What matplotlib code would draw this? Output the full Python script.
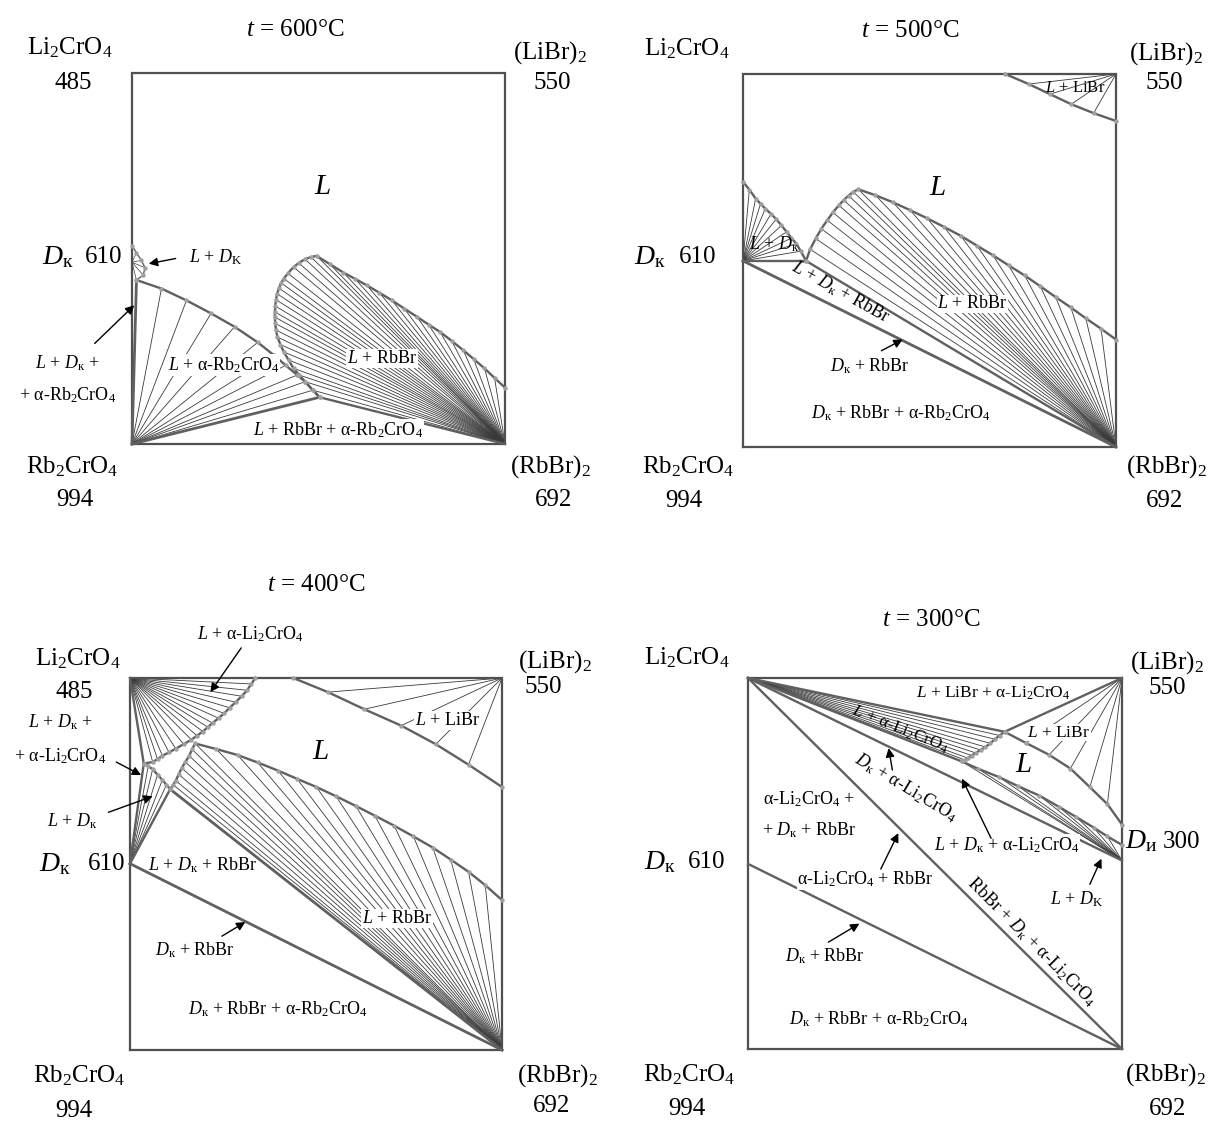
import matplotlib
matplotlib.use("Agg")
import matplotlib.pyplot as plt

plt.rcParams['font.family'] = ['Liberation Serif', 'DejaVu Serif']
plt.rcParams['mathtext.fontset'] = 'custom'
plt.rcParams['mathtext.rm'] = 'Liberation Serif'
plt.rcParams['mathtext.it'] = 'Liberation Serif:italic'
plt.rcParams['mathtext.bf'] = 'Liberation Serif:bold'

# ---------------- data (composition-square coordinates: u to the right, v upward) -------------
# Panel 1, t = 600 C
p1_dk = (0.0, 0.49)
p1_dk_liq_u = [0.0, 0.012, 0.025, 0.035, 0.030, 0.012]
p1_dk_liq_v = [0.535, 0.515, 0.495, 0.475, 0.455, 0.442]
p1_rb_liq_u = [0.012, 0.079, 0.146, 0.212, 0.275, 0.337, 0.381, 0.412, 0.443, 0.464, 0.485, 0.503]
p1_rb_liq_v = [0.442, 0.419, 0.387, 0.352, 0.316, 0.274, 0.239, 0.212, 0.186, 0.168, 0.145, 0.126]
p1_loop_u = [0.503, 0.485, 0.464, 0.448, 0.433, 0.420, 0.407, 0.398, 0.390, 0.386, 0.384, 0.383,
             0.383, 0.384, 0.386, 0.389, 0.394, 0.400, 0.407, 0.418, 0.433, 0.447, 0.464, 0.480,
             0.495, 0.530, 0.567, 0.598, 0.629, 0.663, 0.697, 0.730, 0.764, 0.795, 0.826, 0.857,
             0.888, 0.916, 0.945, 0.972, 1.0]
p1_loop_v = [0.126, 0.145, 0.168, 0.186, 0.204, 0.226, 0.248, 0.268, 0.288, 0.307, 0.325, 0.342,
             0.356, 0.372, 0.389, 0.405, 0.420, 0.434, 0.446, 0.460, 0.477, 0.488, 0.498, 0.504,
             0.507, 0.485, 0.462, 0.445, 0.428, 0.408, 0.387, 0.365, 0.343, 0.322, 0.302, 0.278,
             0.253, 0.229, 0.204, 0.178, 0.152]

# Panel 2, t = 500 C
p2_libr_u = [0.703, 0.766, 0.823, 0.880, 0.940, 1.0]
p2_libr_v = [1.0, 0.973, 0.946, 0.919, 0.895, 0.874]
p2_dk = (0.0, 0.499)
p2_dk_liq_u = [0.0, 0.017, 0.034, 0.047, 0.060, 0.075, 0.089, 0.103, 0.117, 0.130, 0.143, 0.155, 0.169]
p2_dk_liq_v = [0.711, 0.690, 0.666, 0.652, 0.639, 0.625, 0.611, 0.594, 0.577, 0.560, 0.545, 0.525, 0.499]
p2_loop_u = [0.169, 0.180, 0.195, 0.210, 0.226, 0.241, 0.257, 0.270, 0.283, 0.296, 0.309, 0.355,
             0.402, 0.448, 0.494, 0.539, 0.584, 0.627, 0.670, 0.712, 0.755, 0.797, 0.838, 0.879,
             0.919, 0.960, 1.0]
p2_loop_v = [0.499, 0.530, 0.559, 0.585, 0.608, 0.629, 0.648, 0.662, 0.674, 0.684, 0.691, 0.675,
             0.656, 0.635, 0.613, 0.590, 0.566, 0.540, 0.514, 0.487, 0.460, 0.431, 0.402, 0.374,
             0.345, 0.317, 0.288]

# Panel 3, t = 400 C
p3_li_liq_u = [0.337, 0.326, 0.315, 0.300, 0.284, 0.268, 0.253, 0.238, 0.222, 0.209, 0.196,
               0.180, 0.165, 0.144, 0.123, 0.105, 0.087, 0.074, 0.061, 0.037]
p3_li_liq_v = [1.0, 0.984, 0.967, 0.951, 0.935, 0.920, 0.905, 0.892, 0.879, 0.868, 0.856,
               0.845, 0.834, 0.822, 0.810, 0.800, 0.791, 0.782, 0.774, 0.770]
p3_dk = (0.0, 0.501)
p3_dk_liq_u = [0.037, 0.049, 0.061, 0.074, 0.087, 0.098, 0.108]
p3_dk_liq_v = [0.770, 0.763, 0.755, 0.740, 0.726, 0.713, 0.701]
p3_rb_liq_u = [0.108, 0.116, 0.123, 0.131, 0.139, 0.149, 0.159, 0.167, 0.175, 0.232, 0.289,
               0.343, 0.398, 0.449, 0.501, 0.554, 0.607, 0.658, 0.710, 0.762, 0.814, 0.862,
               0.910, 0.955, 1.0]
p3_rb_liq_v = [0.701, 0.713, 0.724, 0.741, 0.758, 0.774, 0.791, 0.808, 0.824, 0.809, 0.793,
               0.773, 0.751, 0.729, 0.707, 0.682, 0.656, 0.630, 0.603, 0.574, 0.544, 0.512,
               0.479, 0.443, 0.403]
p3_libr_u = [0.439, 0.532, 0.630, 0.729, 0.822, 0.910, 1.0]
p3_libr_v = [1.0, 0.962, 0.916, 0.872, 0.822, 0.767, 0.707]

# Panel 4, t = 300 C
p4_dk = (0.0, 0.499)
p4_di = (1.0, 0.508)
p4_li_liq_u = [0.686, 0.673, 0.660, 0.648, 0.635, 0.622, 0.609, 0.598, 0.588, 0.580, 0.572]
p4_li_liq_v = [0.855, 0.845, 0.835, 0.824, 0.814, 0.806, 0.798, 0.791, 0.784, 0.779, 0.775]
p4_libr_u = [0.686, 0.743, 0.805, 0.862, 0.914, 0.961, 1.0]
p4_libr_v = [0.855, 0.825, 0.793, 0.756, 0.706, 0.660, 0.605]
p4_dk_liq_u = [0.572, 0.614, 0.671, 0.723, 0.779, 0.831, 0.878, 0.924, 0.961, 1.0]
p4_dk_liq_v = [0.775, 0.756, 0.733, 0.708, 0.683, 0.653, 0.625, 0.597, 0.573, 0.550]

corner_names = [r'Li$_2$CrO$_4$', r'(LiBr)$_2$', r'Rb$_2$CrO$_4$', r'(RbBr)$_2$']
corner_temps = ['485', '550', '994', '692']
titles = ['600', '500', '400', '300']

# ---------------- style ----------------
FRAME_C = '#505050'
CURVE_C = '#606060'
TIE_C = '#3a3a3a'
MARK_C = '#a0a0a0'
BIG = 18
MID = 13
DK = r'$D_{\mathrm{к}}$'

fig = plt.figure(figsize=(12.10, 11.25), dpi=100)

def make_ax(l, t, r, b):
    W, H = 1210.0, 1125.0
    ax = fig.add_axes([l / W, 1 - b / H, (r - l) / W, (b - t) / H])
    ax.set_xlim(0, 1)
    ax.set_ylim(0, 1)
    ax.axis('off')
    ax.plot([0, 1, 1, 0, 0], [0, 0, 1, 1, 0], color=FRAME_C, lw=1.6, clip_on=False, zorder=3,
            solid_joinstyle='miter')
    return ax

def curve(ax, us, vs, lw=1.7, marks=True):
    ax.plot(us, vs, color=CURVE_C, lw=lw, clip_on=False, zorder=4)
    if marks:
        ax.plot(us, vs, 'o', ms=3.2, color=MARK_C, mec='none', clip_on=False, zorder=5)

def fan(ax, apex, us, vs, lw=0.6):
    for u, v in zip(us, vs):
        ax.plot([apex[0], u], [apex[1], v], color=TIE_C, lw=lw, clip_on=False, zorder=2)

def seg(ax, a, b, lw=1.7):
    ax.plot([a[0], b[0]], [a[1], b[1]], color=CURVE_C, lw=lw, clip_on=False, zorder=4)

def label(ax, u, v, s, size=MID, rot=0, bg=True, **kw):
    bbox = dict(facecolor='white', edgecolor='none', pad=0.5) if bg else None
    ax.text(u, v, s, fontsize=size, ha='center', va='center', rotation=rot,
            rotation_mode='anchor', bbox=bbox, zorder=6, clip_on=False, **kw)

def arrow(ax, start, end):
    ax.annotate('', xy=end, xytext=start,
                arrowprops=dict(arrowstyle='-|>', color='black', lw=1.0, mutation_scale=13,
                                shrinkA=0, shrinkB=0), zorder=7, annotation_clip=False)

def corners(ax, names, temps):
    for pos, s in zip(names, corner_names):
        label(ax, pos[0], pos[1], s, size=BIG, bg=False)
    for pos, s in zip(temps, corner_temps):
        if pos is not None:
            label(ax, pos[0], pos[1], s, size=BIG, bg=False)

def dk_label(ax, v, ud, un, name=DK, num='610'):
    label(ax, ud, v, name, size=BIG + 2, bg=False)
    label(ax, un, v, num, size=BIG, bg=False)

# ================= Panel 1 : 600 C =================
ax = make_ax(132, 73, 505, 444)
fan(ax, p1_dk, p1_dk_liq_u, p1_dk_liq_v, lw=0.5)
curve(ax, p1_dk_liq_u, p1_dk_liq_v, lw=1.0)
fan(ax, (0, 0), p1_rb_liq_u, p1_rb_liq_v)
curve(ax, p1_rb_liq_u, p1_rb_liq_v)
seg(ax, (0, 0), (p1_rb_liq_u[0], p1_rb_liq_v[0]), lw=2.0)
seg(ax, (0, 0), (p1_rb_liq_u[-1], p1_rb_liq_v[-1]), lw=2.0)
fan(ax, (1, 0), p1_loop_u, p1_loop_v)
curve(ax, p1_loop_u, p1_loop_v)
seg(ax, (p1_loop_u[0], p1_loop_v[0]), (1, 0), lw=1.7)
label(ax, 0.438, 1.115, r'$t$ = ' + titles[0] + '°C', size=BIG, bg=False)
corners(ax, [(-0.166, 1.069), (1.121, 1.055), (-0.16, -0.062), (1.121, -0.062)],
        [(-0.157, 0.972), (1.126, 0.972), (-0.152, -0.15), (1.131, -0.15)])
label(ax, 0.51, 0.692, r'$L$', size=BIG + 3, bg=False)
dk_label(ax, 0.504, -0.199, -0.075)
label(ax, 0.225, 0.504, r'$L$ + $D_{\mathrm{K}}$', bg=False)
arrow(ax, (0.117, 0.500), (0.045, 0.486))
label(ax, -0.173, 0.217, r'$L$ + $D_{\mathrm{к}}$ +', bg=False)
label(ax, -0.173, 0.132, r'+ α-Rb$_2$CrO$_4$', bg=False)
arrow(ax, (-0.10, 0.271), (0.006, 0.374))
label(ax, 0.246, 0.213, r'$L$ + α-Rb$_2$CrO$_4$')
label(ax, 0.671, 0.230, r'$L$ + RbBr')
label(ax, 0.552, 0.038, r'$L$ + RbBr + α-Rb$_2$CrO$_4$')

# ================= Panel 2 : 500 C =================
ax = make_ax(743, 74, 1116, 447)
fan(ax, (1, 1), p2_libr_u[1:-1], p2_libr_v[1:-1])
curve(ax, p2_libr_u, p2_libr_v)
fan(ax, p2_dk, p2_dk_liq_u, p2_dk_liq_v)
curve(ax, p2_dk_liq_u, p2_dk_liq_v)
seg(ax, p2_dk, (p2_loop_u[0], p2_loop_v[0]), lw=1.7)
seg(ax, p2_dk, (1, 0), lw=2.0)
fan(ax, (1, 0), p2_loop_u, p2_loop_v)
curve(ax, p2_loop_u, p2_loop_v)
seg(ax, (p2_loop_u[0], p2_loop_v[0]), (1, 0), lw=1.7)
label(ax, 0.449, 1.115, r'$t$ = ' + titles[1] + '°C', size=BIG, bg=False)
corners(ax, [(-0.152, 1.069), (1.134, 1.055), (-0.147, -0.052), (1.134, -0.052)],
        [None, (1.129, 0.975), (-0.158, -0.145), (1.129, -0.145)])
label(ax, 0.89, 0.962, r'$L$ + LiBr', size=MID - 1, bg=False)
label(ax, 0.522, 0.694, r'$L$', size=BIG + 3, bg=False)
label(ax, 0.085, 0.545, r'$L$ + $D_{\mathrm{к}}$', bg=False)
dk_label(ax, 0.51, -0.25, -0.121)
label(ax, 0.262, 0.415, r'$L$ + $D_{\mathrm{к}}$ + RbBr', rot=-29, bg=False)
label(ax, 0.615, 0.384, r'$L$ + RbBr')
label(ax, 0.34, 0.218, DK + ' + RbBr', bg=False)
arrow(ax, (0.371, 0.258), (0.428, 0.288))
label(ax, 0.423, 0.092, DK + r' + RbBr + α-Rb$_2$CrO$_4$', bg=False)

# ================= Panel 3 : 400 C =================
ax = make_ax(130, 678, 502, 1050)
fan(ax, (0, 1), p3_li_liq_u, p3_li_liq_v)
curve(ax, p3_li_liq_u, p3_li_liq_v)
seg(ax, (0, 1), (p3_li_liq_u[-1], p3_li_liq_v[-1]), lw=1.7)
seg(ax, p3_dk, (p3_li_liq_u[-1], p3_li_liq_v[-1]), lw=1.7)
fan(ax, p3_dk, p3_dk_liq_u, p3_dk_liq_v)
curve(ax, p3_dk_liq_u, p3_dk_liq_v)
seg(ax, p3_dk, (p3_dk_liq_u[-1], p3_dk_liq_v[-1]), lw=1.7)
seg(ax, p3_dk, (1, 0), lw=2.0)
fan(ax, (1, 0), p3_rb_liq_u, p3_rb_liq_v)
curve(ax, p3_rb_liq_u, p3_rb_liq_v)
seg(ax, (p3_rb_liq_u[0], p3_rb_liq_v[0]), (1, 0), lw=2.0)
fan(ax, (1, 1), p3_libr_u[1:-1], p3_libr_v[1:-1])
curve(ax, p3_libr_u, p3_libr_v)
label(ax, 0.501, 1.25, r'$t$ = ' + titles[2] + '°C', size=BIG, bg=False)
corners(ax, [(-0.141, 1.052), (1.143, 1.043), (-0.136, -0.07), (1.148, -0.07)],
        [(-0.151, 0.962), (1.112, 0.977), (-0.151, -0.165), (1.133, -0.15)])
label(ax, 0.325, 1.119, r'$L$ + α-Li$_2$CrO$_4$', bg=False)
arrow(ax, (0.299, 1.081), (0.216, 0.962))
label(ax, -0.187, 0.881, r'$L$ + $D_{\mathrm{к}}$ +', bg=False)
label(ax, -0.187, 0.791, r'+ α-Li$_2$CrO$_4$', bg=False)
arrow(ax, (-0.037, 0.774), (0.03, 0.739))
label(ax, -0.156, 0.615, r'$L$ + $D_{\mathrm{к}}$', bg=False)
arrow(ax, (-0.058, 0.639), (0.061, 0.682))
dk_label(ax, 0.50, -0.203, -0.063)
label(ax, 0.853, 0.886, r'$L$ + LiBr')
label(ax, 0.511, 0.80, r'$L$', size=BIG + 3, bg=False)
label(ax, 0.196, 0.496, r'$L$ + $D_{\mathrm{к}}$ + RbBr', bg=False)
label(ax, 0.718, 0.354, r'$L$ + RbBr')
label(ax, 0.175, 0.268, DK + ' + RbBr', bg=False)
arrow(ax, (0.247, 0.306), (0.31, 0.344))
label(ax, 0.398, 0.111, DK + r' + RbBr + α-Rb$_2$CrO$_4$', bg=False)

# ================= Panel 4 : 300 C =================
ax = make_ax(748, 678, 1122, 1049)
seg(ax, (0, 1), (1, 0), lw=1.7)
seg(ax, (0, 1), p4_di, lw=1.7)
seg(ax, p4_dk, (1, 0), lw=1.7)
fan(ax, (0, 1), p4_li_liq_u, p4_li_liq_v)
curve(ax, p4_li_liq_u, p4_li_liq_v)
seg(ax, (0, 1), (p4_li_liq_u[0], p4_li_liq_v[0]), lw=1.7)
seg(ax, (0, 1), (p4_li_liq_u[-1], p4_li_liq_v[-1]), lw=1.7)
seg(ax, (1, 1), (p4_libr_u[0], p4_libr_v[0]), lw=1.7)
fan(ax, (1, 1), p4_libr_u[1:-1], p4_libr_v[1:-1])
curve(ax, p4_libr_u, p4_libr_v)
fan(ax, p4_di, p4_dk_liq_u, p4_dk_liq_v)
curve(ax, p4_dk_liq_u, p4_dk_liq_v)
label(ax, 0.49, 1.156, r'$t$ = ' + titles[3] + '°C', size=BIG, bg=False)
corners(ax, [(-0.163, 1.055), (1.121, 1.041), (-0.157, -0.07), (1.116, -0.07)],
        [None, (1.121, 0.972), (-0.163, -0.163), (1.121, -0.163)])
label(ax, 0.655, 0.959, r'$L$ + LiBr + α-Li$_2$CrO$_4$', size=MID - 0.5, bg=False)
label(ax, 0.407, 0.862, r'$L$ + α-Li$_2$CrO$_4$', size=MID - 0.5, rot=-22, bg=False)
label(ax, 0.831, 0.853, r'$L$ + LiBr', size=MID - 0.5)
label(ax, 0.738, 0.766, r'$L$', size=BIG + 3, bg=False)
label(ax, 0.422, 0.706, DK + r' + α-Li$_2$CrO$_4$', rot=-31, bg=False)
arrow(ax, (0.386, 0.752), (0.376, 0.811))
label(ax, 0.164, 0.674, r'α-Li$_2$CrO$_4$ +', bg=False)
label(ax, 0.164, 0.591, r'+ ' + DK + ' + RbBr', bg=False)
label(ax, 0.692, 0.55, r'$L$ + ' + DK + r' + α-Li$_2$CrO$_4$')
arrow(ax, (0.65, 0.568), (0.572, 0.729))
label(ax, 1.05, 0.559, r'$D_{\mathrm{и}}$', size=BIG + 2, bg=False)
label(ax, 1.16, 0.559, '300', size=BIG, bg=False)
dk_label(ax, 0.504, -0.235, -0.111)
label(ax, 0.314, 0.458, r'α-Li$_2$CrO$_4$ + RbBr')
arrow(ax, (0.355, 0.485), (0.402, 0.582))
label(ax, 0.759, 0.288, r'RbBr + ' + DK + r' + α-Li$_2$CrO$_4$', rot=-45, bg=False)
label(ax, 0.878, 0.403, r'$L$ + $D_{\mathrm{K}}$', bg=False)
arrow(ax, (0.914, 0.444), (0.945, 0.513))
label(ax, 0.205, 0.251, DK + ' + RbBr', bg=False)
arrow(ax, (0.215, 0.288), (0.298, 0.338))
label(ax, 0.35, 0.081, DK + r' + RbBr + α-Rb$_2$CrO$_4$', bg=False)

fig.savefig('out.png', dpi=100)
